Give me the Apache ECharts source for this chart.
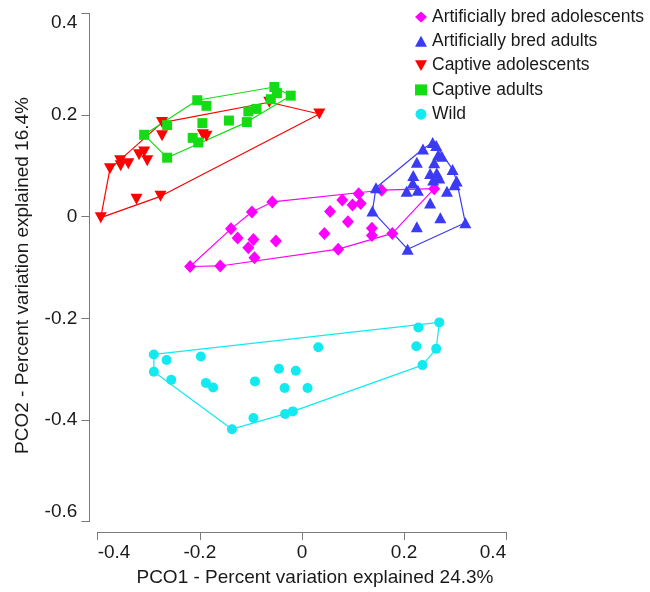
<!DOCTYPE html>
<html>
<head>
<meta charset="utf-8">
<script src="https://cdn.jsdelivr.net/npm/echarts@6/dist/echarts.min.js"></script>
<style>
html, body { margin: 0; padding: 0; background: #fff; }
#chart { width: 650px; height: 592px; }
</style>
</head>
<body>
<div id="chart"></div>
<script>
// PCO scores, [PCO1, PCO2]
var groupNames = ['Artificially bred adolescents', 'Artificially bred adults', 'Captive adolescents', 'Captive adults', 'Wild'];

var abAdolescents = [
    [-0.219, -0.098], [-0.160, -0.097], [-0.139, -0.024], [-0.126, -0.042], [-0.098, 0.009],
    [-0.095, -0.045], [-0.105, -0.061], [-0.093, -0.081], [-0.058, 0.029], [-0.051, -0.048],
    [0.044, -0.033], [0.055, 0.010], [0.071, -0.064], [0.079, 0.033], [0.090, -0.010],
    [0.099, 0.023], [0.111, 0.045], [0.115, 0.026], [0.137, -0.023], [0.137, -0.037],
    [0.156, 0.052], [0.177, -0.033], [0.259, 0.055]
];
var abAdults = [
    [0.256, 0.146], [0.263, 0.140], [0.237, 0.133], [0.267, 0.122], [0.274, 0.119],
    [0.225, 0.107], [0.259, 0.106], [0.295, 0.093], [0.218, 0.081], [0.251, 0.085],
    [0.264, 0.086], [0.269, 0.076], [0.303, 0.070], [0.217, 0.066], [0.257, 0.072],
    [0.205, 0.050], [0.227, 0.052], [0.284, 0.050], [0.299, 0.063], [0.145, 0.057],
    [0.138, 0.011], [0.251, 0.027], [0.271, -0.002], [0.225, -0.020], [0.320, -0.012],
    [0.207, -0.064]
];
var captiveAdolescents = [
    [-0.394, -0.002], [-0.376, 0.094], [-0.356, 0.110], [-0.355, 0.100], [-0.340, 0.104],
    [-0.319, 0.122], [-0.309, 0.127], [-0.303, 0.110], [-0.324, 0.034], [-0.277, 0.040],
    [-0.274, 0.185], [-0.274, 0.159], [-0.194, 0.161], [-0.187, 0.158], [-0.064, 0.225],
    [0.034, 0.202]
];
var captiveAdults = [
    [-0.205, 0.229], [-0.187, 0.218], [-0.054, 0.255], [-0.049, 0.243], [-0.022, 0.238],
    [-0.061, 0.231], [-0.105, 0.207], [-0.089, 0.212], [-0.143, 0.189], [-0.108, 0.186],
    [-0.195, 0.184], [-0.214, 0.155], [-0.203, 0.146], [-0.309, 0.161], [-0.264, 0.180],
    [-0.264, 0.116]
];
var wild = [
    [-0.290, -0.271], [-0.265, -0.282], [-0.290, -0.305], [-0.256, -0.321], [-0.198, -0.275],
    [-0.188, -0.327], [-0.174, -0.336], [-0.137, -0.418], [-0.095, -0.396], [-0.092, -0.324],
    [-0.045, -0.299], [-0.012, -0.303], [-0.034, -0.337], [0.011, -0.337], [-0.033, -0.388],
    [-0.018, -0.383], [0.032, -0.257], [0.228, -0.218], [0.269, -0.208], [0.224, -0.255],
    [0.263, -0.260], [0.236, -0.292]
];

var groupData = [abAdolescents, abAdults, captiveAdolescents, captiveAdults, wild];
var groupColors = ['#ff00ff', '#3b3bf5', '#ff0000', '#14dc14', '#12eaf0'];
var groupSymbols = ['diamond', 'triangle', 'path://M0,0L10,0L5,9Z', 'rect', 'circle'];
var groupSizes = [[12, 13], [12, 11], [12, 11], 10, 10];

// convex hull (monotone chain), closed back to first point
function convexHull(points) {
    var p = points.slice().sort(function (a, b) { return a[0] - b[0] || a[1] - b[1]; });
    function cross(o, a, b) { return (a[0] - o[0]) * (b[1] - o[1]) - (a[1] - o[1]) * (b[0] - o[0]); }
    var lower = [], upper = [];
    for (var i = 0; i < p.length; i++) {
        while (lower.length >= 2 && cross(lower[lower.length - 2], lower[lower.length - 1], p[i]) <= 0) lower.pop();
        lower.push(p[i]);
    }
    for (var j = p.length - 1; j >= 0; j--) {
        while (upper.length >= 2 && cross(upper[upper.length - 2], upper[upper.length - 1], p[j]) <= 0) upper.pop();
        upper.push(p[j]);
    }
    upper.pop();
    lower.pop();
    var hull = lower.concat(upper);
    hull.push(hull[0]);
    return hull;
}

var series = [];
groupNames.forEach(function (name, i) {
    series.push({
        name: name + ' hull',
        type: 'line',
        data: convexHull(groupData[i]),
        symbol: 'none',
        silent: true,
        z: 1,
        lineStyle: { color: groupColors[i], width: 1.2 }
    });
});
groupNames.forEach(function (name, i) {
    series.push({
        name: name,
        type: 'scatter',
        data: groupData[i],
        symbol: groupSymbols[i],
        symbolSize: groupSizes[i],
        z: 2,
        itemStyle: { color: groupColors[i], opacity: 1 }
    });
});

var myChart = echarts.init(document.getElementById('chart'));

var font = 'Arial, "Liberation Sans", sans-serif';
var option = {
    animation: false,
    textStyle: { fontFamily: font },
    grid: { left: 97.7, right: 143.8, top: 13.3, bottom: 69.3 },
    legend: {
        data: groupNames,
        orient: 'vertical',
        left: 410,
        top: 3,
        itemWidth: 12,
        itemHeight: 11,
        itemGap: 6.3,
        textStyle: { fontSize: 17.5, color: '#1a1a1a', fontFamily: font }
    },
    xAxis: {
        type: 'value',
        min: -0.4,
        max: 0.4,
        interval: 0.2,
        offset: 10.3,
        name: 'PCO1 - Percent variation explained 24.3%',
        nameLocation: 'middle',
        nameGap: 36,
        nameTextStyle: { fontSize: 19, color: '#1a1a1a', padding: [0, 0, 0, 26] },
        axisLine: { onZero: false, lineStyle: { color: '#7a7a7a', width: 1 } },
        axisTick: { length: 8, lineStyle: { color: '#7a7a7a' } },
        axisLabel: { fontSize: 19, color: '#1a1a1a', margin: 11, alignMinLabel: 'left', alignMaxLabel: 'right' },
        splitLine: { show: false }
    },
    yAxis: {
        type: 'value',
        min: -0.6,
        max: 0.4,
        interval: 0.2,
        offset: 8.4,
        name: 'PCO2 - Percent variation explained 16.4%',
        nameLocation: 'middle',
        nameGap: 57,
        nameTextStyle: { fontSize: 19, color: '#1a1a1a', padding: [0, 16, 0, 0] },
        axisLine: { onZero: false, lineStyle: { color: '#7a7a7a', width: 1 } },
        axisTick: { length: 8, lineStyle: { color: '#7a7a7a' } },
        axisLabel: { fontSize: 19, color: '#1a1a1a', margin: 12, verticalAlignMinLabel: 'bottom', verticalAlignMaxLabel: 'top' },
        splitLine: { show: false }
    },
    series: series
};

myChart.setOption(option);
</script>
</body>
</html>
